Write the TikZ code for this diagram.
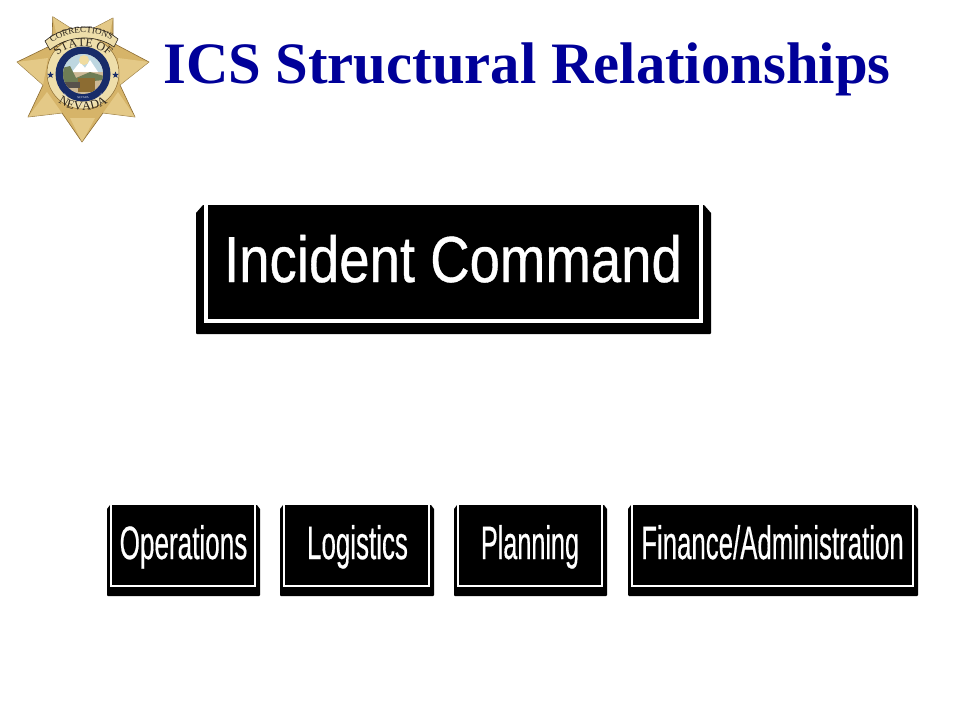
\documentclass[tikz,border=0pt]{standalone}
\usepackage{fontspec}
\usetikzlibrary{decorations.text,shapes.geometric}
\setmainfont{Liberation Serif}
\newfontfamily\boxfont[FakeBold=0.6]{Liberation Sans}
\definecolor{titleblue}{RGB}{0,0,153}
\definecolor{gold}{RGB}{214,180,105}
\definecolor{golddark}{RGB}{140,108,50}
\definecolor{goldlight}{RGB}{240,220,160}
\definecolor{cream}{RGB}{238,222,170}
\definecolor{sealblue}{RGB}{24,44,105}
\definecolor{sealtan}{RGB}{205,185,150}
\definecolor{inkdark}{RGB}{45,38,30}
\definecolor{sealsky}{RGB}{190,215,225}
\definecolor{sealgreen}{RGB}{110,125,85}
\tikzset{
  x=1pt,y=-1pt,
  titletext/.style={font=\fontsize{58.7}{60}\selectfont\bfseries,text=titleblue,inner sep=0,anchor=base west},
  boxlabel/.style={text=white,inner sep=0,font=\boxfont,anchor=base},
  boxback/.style={fill=black,draw=none},
  boxrule/.style={draw=white},
  badgestar/.style={star,star points=5,star point ratio=2.4,fill=sealblue,inner sep=0,minimum size=7pt},
}
% #1 #2 #3 #4 outer box; #5 chamfer; #6 rule width; #7 left inset; #8 right inset; #9 bottom inset
\newcommand{\commandbox}[9]{%
  \fill[boxback] (#1+#5,#2) -- (#1,#2+#5+1) -- (#1,#4-1) -- (#1+1,#4) -- (#3-1,#4) -- (#3,#4-1) -- (#3,#2+#5+1) -- (#3-#5,#2) -- cycle;
  \draw[boxrule,line width=#6] (#1+#7,#2-1) -- (#1+#7,#4-#9) -- (#3-#8,#4-#9) -- (#3-#8,#2-1);
}
\begin{document}
\begin{tikzpicture}
\useasboundingbox (0,0) rectangle (960,720);
\fill[white] (0,0) rectangle (960,720);
% badge
\fill[gold,draw=golddark,line width=.6,line join=round]
 (52.7,16.7) -- (72,29) -- (92,29) -- (113,18) -- (113,43) -- (149,62) -- (120,85) -- (135,117) -- (103,113) -- (82,142) -- (62,113) -- (28,117) -- (43,85) -- (17,62) -- (52,45) -- cycle;
\fill[goldlight,opacity=.55] (52.7,16.7) -- (72,29) -- (58,42) -- cycle (113,18) -- (92,29) -- (108,41) -- cycle (149,62) -- (120,85) -- (118,58) -- cycle (17,62) -- (48,58) -- (43,85) -- cycle (82,142) -- (70,118) -- (95,118) -- cycle (135,117) -- (103,113) -- (118,92) -- cycle (28,117) -- (62,113) -- (47,92) -- cycle;
\fill[cream,draw=golddark,line width=.5] (83,73) circle (36);
\fill[sealblue] (83,74) circle (27.5);
\fill[sealtan] (83,74) circle (20);
\begin{scope}
\clip (83,74) circle (20);
\fill[sealsky] (60,54) rectangle (106,72);
\fill[white] (72,72) -- (80,62) -- (85,68) -- (90,60) -- (98,72) -- cycle;
\fill[goldlight] (84,60) circle (5);
\fill[sealgreen] (62,68) -- (70,66) -- (76,78) -- (90,72) -- (104,76) -- (104,80) -- (62,84) -- cycle;
\fill[golddark] (78,78) rectangle (95,92);
\fill[inkdark!80] (65,82) rectangle (80,88);
\end{scope}
\path[postaction={decorate,decoration={text along path,text align=center,text={|\fontsize{2.8}{3}\selectfont\color{white}|THE GREAT SEAL OF THE STATE OF}}}] (60,78) arc (190:-10:23.4);
\path[postaction={decorate,decoration={text along path,text align=center,text={|\fontsize{2.8}{3}\selectfont\color{white}|NEVADA}}}] (73,97) .. controls (78,99) and (88,99) .. (93,97);
\node[badgestar] (starl) at (50.5,75) {};
\node[badgestar] (starr) at (115.5,75) {};
\fill[cream,draw=inkdark,line width=.6] (45,41) .. controls (65,24) and (98,22) .. (118,39) -- (114,47) .. controls (96,34) and (68,35) .. (50,50) -- cycle;
\path[postaction={decorate,decoration={text along path,text align=center,text={|\fontsize{9}{9}\selectfont\color{inkdark}|CORRECTIONS}}}] (48,46) .. controls (66,29) and (96,28) .. (116,43);
\path[postaction={decorate,decoration={text along path,text align=center,text={|\fontsize{12}{12}\selectfont\color{inkdark}|STATE OF}}}] (57,57) .. controls (68,43) and (98,43) .. (109,57);
\path[postaction={decorate,decoration={text along path,text align=center,text={|\fontsize{12.5}{13}\selectfont\color{inkdark}|NEVADA}}}] (57,101) .. controls (68,113) and (98,113) .. (109,101);
% title
\node[titletext] (title) at (163,83) {ICS Structural Relationships};
% boxes
\commandbox{196}{205}{711}{334}{7}{4}{9.5}{10}{13}
\node[boxlabel] (ic) at (453,282) {\fontsize{62}{62}\selectfont\scalebox{.88}[1.05]{Incident Command}};
\commandbox{107}{505}{260}{596}{3}{2.4}{4}{5}{10}
\node[boxlabel] (ops) at (183.5,559) {\fontsize{36}{36}\selectfont\scalebox{.725}[1.3]{Operations}};
\commandbox{280}{505}{434}{596}{3}{2.4}{4}{5}{10}
\node[boxlabel] (log) at (357.5,559) {\fontsize{36}{36}\selectfont\scalebox{.72}[1.3]{Logistics}};
\commandbox{454}{505}{607}{596}{3}{2.4}{4}{5}{10}
\node[boxlabel] (plan) at (530,559) {\fontsize{36}{36}\selectfont\scalebox{.7}[1.3]{Planning}};
\commandbox{628}{505}{918}{596}{3}{2.4}{4}{5}{10}
\node[boxlabel] (fin) at (772.5,559) {\fontsize{36}{36}\selectfont\scalebox{.717}[1.3]{Finance/Administration}};
\end{tikzpicture}
\end{document}
